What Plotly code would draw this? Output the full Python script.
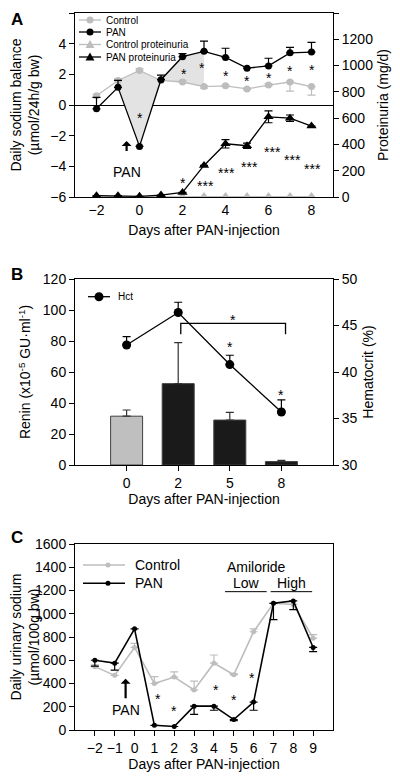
import plotly.graph_objects as go

# ---------------- Data ----------------
# Panel A
days_A = [-2, -1, 0, 1, 2, 3, 4, 5, 6, 7, 8]
ctrl_na = [0.6, 1.6, 2.25, 1.6, 1.5, 1.2, 1.25, 1.05, 1.3, 1.5, 1.2]
ctrl_na_up = [0.1, 0.1, 0.12, 0.0, 0.1, 0.05, 0.05, 0.05, 0.1, 0.05, 0.0]
ctrl_na_down = [0.1, 0.0, 0.0, 0.0, 0.0, 0.1, 0.05, 0.05, 0.05, 0.6, 0.55]
pan_na = [-0.25, 1.15, -2.7, 1.65, 3.15, 3.5, 3.1, 2.4, 2.55, 3.4, 3.45]
pan_na_up = [0.75, 0.45, 0.0, 0.3, 0.2, 0.67, 0.6, 0.0, 0.5, 0.36, 0.63]
ctrl_prot = [3, 3, 3, 3, 3, 3, 3, 3, 3, 3, 3]
pan_prot = [10, 10, 5, 15, 35, 240, 405, 390, 610, 600, 540]
pan_prot_err = [0, 0, 0, 0, 0, 0, 32, 20, 45, 24, 0]
legend_A = ["Control", "PAN", "Control proteinuria", "PAN proteinuria"]

# Panel B
days_B = ["0", "2", "5", "8"]
renin = [31.5, 52.5, 29, 2.2]
renin_err = [4, 26.5, 5, 0.8]
hct = [42.9, 46.4, 40.8, 35.7]
hct_err = [0.9, 1.1, 1.0, 1.3]
legend_B = ["Hct"]

# Panel C
days_C = [-2, -1, 0, 1, 2, 3, 4, 5, 6, 7, 8, 9]
ctrl_C = [545, 470, 710, 400, 455, 345, 575, 475, 845, 1090, 1080, 790]
ctrl_C_up = [15, 0, 35, 60, 45, 75, 70, 10, 25, 0, 0, 30]
pan_C = [600, 575, 870, 40, 30, 205, 205, 90, 240, 1090, 1110, 710]
pan_C_down = [50, 60, 0, 0, 0, 70, 35, 10, 70, 140, 75, 35]
legend_C = ["Control", "PAN"]

FONT = "Liberation Sans, Arial, sans-serif"
GRAY = "#bdbdbd"
BLACK = "#000000"

# The page places the figure 8px from the top-left corner; work in page pixels.
OFF = 8
W, H = 400 - OFF, 776 - OFF
def px(x):
    return (x - OFF) / W
def py(y):
    return 1 - (y - OFF) / H
def ydom(top_px, bot_px):
    return [py(bot_px), py(top_px)]
xdom = [px(75), px(333)]

fig = go.Figure()

# ---------- Panel A ----------
sl = [days_A.index(d) for d in [-1, 0, 1, 2, 3]]
fig.add_trace(go.Scatter(x=[days_A[i] for i in sl], y=[ctrl_na[i] for i in sl],
                         mode="lines", line=dict(width=0), hoverinfo="skip", xaxis="x", yaxis="y"))
fig.add_trace(go.Scatter(x=[days_A[i] for i in sl], y=[pan_na[i] for i in sl],
                         mode="lines", line=dict(width=0), fill="tonexty",
                         fillcolor="#e3e3e3", hoverinfo="skip", xaxis="x", yaxis="y"))
fig.add_trace(go.Scatter(x=days_A, y=ctrl_na, name=legend_A[0], mode="lines+markers",
                         line=dict(color=GRAY, width=1.3),
                         marker=dict(symbol="circle", size=7, color=GRAY),
                         error_y=dict(type="data", symmetric=False, array=ctrl_na_up,
                                      arrayminus=ctrl_na_down, color=GRAY, thickness=1.2, width=4),
                         xaxis="x", yaxis="y"))
fig.add_trace(go.Scatter(x=days_A, y=pan_na, name=legend_A[1], mode="lines+markers",
                         line=dict(color=BLACK, width=1.3),
                         marker=dict(symbol="circle", size=7, color=BLACK),
                         error_y=dict(type="data", symmetric=False, array=pan_na_up,
                                      arrayminus=[0] * len(pan_na), color=BLACK, thickness=1.2, width=4),
                         xaxis="x", yaxis="y"))
fig.add_trace(go.Scatter(x=days_A, y=ctrl_prot, name=legend_A[2], mode="lines+markers",
                         line=dict(color=GRAY, width=1.3),
                         marker=dict(symbol="triangle-up", size=9, color=GRAY),
                         xaxis="x", yaxis="y2"))
fig.add_trace(go.Scatter(x=days_A, y=pan_prot, name=legend_A[3], mode="lines+markers",
                         line=dict(color=BLACK, width=1.3),
                         marker=dict(symbol="triangle-up", size=9, color=BLACK),
                         error_y=dict(type="data", array=pan_prot_err, color=BLACK, thickness=1.2, width=4),
                         xaxis="x", yaxis="y2"))

# ---------- Panel B ----------
posB = list(range(len(days_B)))
fig.add_trace(go.Bar(x=posB, y=renin, width=0.62,
                     marker=dict(color=["#bfbfbf", "#1a1a1a", "#1a1a1a", "#1a1a1a"],
                                 line=dict(color="#404040", width=1)),
                     error_y=dict(type="data", symmetric=False, array=renin_err,
                                  arrayminus=[0] * 4, color="#333333", thickness=1.2, width=4),
                     xaxis="x2", yaxis="y3"))
fig.add_trace(go.Scatter(x=posB, y=hct, name=legend_B[0], mode="lines+markers",
                         line=dict(color=BLACK, width=1.3),
                         marker=dict(symbol="circle", size=9, color=BLACK),
                         error_y=dict(type="data", symmetric=False, array=hct_err,
                                      arrayminus=[0] * 4, color=BLACK, thickness=1.2, width=4),
                         xaxis="x2", yaxis="y4"))

# ---------- Panel C ----------
fig.add_trace(go.Scatter(x=days_C, y=ctrl_C, name=legend_C[0], mode="lines+markers",
                         line=dict(color=GRAY, width=1.6),
                         marker=dict(symbol="circle", size=5, color=GRAY),
                         error_y=dict(type="data", symmetric=False, array=ctrl_C_up,
                                      arrayminus=[0] * len(ctrl_C), color=GRAY, thickness=1.2, width=4),
                         xaxis="x3", yaxis="y5"))
fig.add_trace(go.Scatter(x=days_C, y=pan_C, name=legend_C[1], mode="lines+markers",
                         line=dict(color=BLACK, width=1.6),
                         marker=dict(symbol="circle", size=5, color=BLACK),
                         error_y=dict(type="data", symmetric=False, array=[0] * len(pan_C),
                                      arrayminus=pan_C_down, color=BLACK, thickness=1.2, width=4),
                         xaxis="x3", yaxis="y5"))

axis_common = dict(showline=True, linecolor="black", linewidth=1, mirror=True,
                   ticks="outside", ticklen=5, tickcolor="black", showgrid=False,
                   zeroline=False, automargin=False,
                   tickfont=dict(family=FONT, size=14, color="black"),
                   title_font=dict(family=FONT, size=14, color="black"))

layout = dict(
    width=W, height=H, autosize=False, showlegend=False,
    margin=dict(l=0, r=0, t=0, b=0, autoexpand=False),
    paper_bgcolor="white", plot_bgcolor="white",
    font=dict(family=FONT, color="black"),
    barmode="overlay",
    # Panel A
    xaxis=dict(domain=xdom, anchor="y", range=[-3, 9], tickvals=[-2, 0, 2, 4, 6, 8],
               title=dict(text="Days after PAN-injection", standoff=8), **{**axis_common, "ticks": ""}),
    yaxis=dict(domain=ydom(13, 197), anchor="x", range=[-6, 6], tickvals=[-6, -4, -2, 0, 2, 4, 6],
               title=dict(text="Daily sodium balance<br>(µmol/24h/g bw)", standoff=12),
               **{**axis_common, "zeroline": True, "zerolinecolor": "black", "zerolinewidth": 1, "mirror": False}),
    yaxis2=dict(overlaying="y", side="right", anchor="x", range=[0, 1400],
                tickvals=[0, 200, 400, 600, 800, 1000, 1200, 1400],
                title=dict(text="Proteinuria (mg/d)", standoff=6), **{**axis_common, "mirror": False}),
    # Panel B
    xaxis2=dict(domain=xdom, anchor="y3", range=[-1, 4], tickvals=posB, ticktext=days_B,
                title=dict(text="Days after PAN-injection", standoff=2), **axis_common),
    yaxis3=dict(domain=ydom(279, 465), anchor="x2", range=[0, 120], tickvals=[0, 20, 40, 60, 80, 100, 120],
                title=dict(text="Renin (x10<sup>-5</sup> GU·ml<sup>-1</sup>)", standoff=8),
                **{**axis_common, "mirror": False}),
    yaxis4=dict(overlaying="y3", side="right", anchor="x2", range=[30, 50], tickvals=[30, 35, 40, 45, 50],
                title=dict(text="Hematocrit (%)", standoff=6), **{**axis_common, "mirror": False}),
    # Panel C
    xaxis3=dict(domain=xdom, anchor="y5", range=[-3, 10], tickvals=days_C,
                title=dict(text="Days after PAN-injection", standoff=4), **axis_common),
    yaxis5=dict(domain=ydom(544, 730), anchor="x3", range=[0, 1600],
                tickvals=[0, 200, 400, 600, 800, 1000, 1200, 1400, 1600],
                title=dict(text="Daily urinary sodium<br>(µmol/100g bw)", standoff=4), **axis_common),
)
fig.update_layout(**layout)

ann = []
def star(x, y, text, xref, yref, size=14):
    ann.append(dict(x=x, y=y, xref=xref, yref=yref, text=text, showarrow=False,
                    font=dict(family=FONT, size=size, color="black"), yanchor="middle"))

# Panel A stars (sodium)
for x, y in [(0, -0.85), (2.05, 2.0), (2.9, 2.4), (4, 1.9), (5, 1.55), (6, 1.75), (7, 2.2), (8, 2.3)]:
    star(x, y, "*", "x", "y")
# Panel A stars (proteinuria)
star(2.0, 105, "*", "x", "y2")
for x, y in [(3.05, 80), (4.05, 180), (5.1, 225), (6.2, 345), (7.1, 280), (8.05, 210)]:
    star(x, y, "***", "x", "y2")
# PAN arrow A
ann.append(dict(x=-0.6, y=-2.35, ax=-0.6, ay=-3.1, xref="x", yref="y", axref="x", ayref="y",
                text="", showarrow=True, arrowhead=1, arrowsize=0.75, arrowwidth=2.2, arrowcolor="black"))
ann.append(dict(x=-0.6, y=-4.35, xref="x", yref="y", text="PAN", showarrow=False,
                font=dict(family=FONT, size=14, color="black")))

# Panel B stars
star(2.07, 93.5, "*", "x2", "y3")
star(2.0, 42.7, "*", "x2", "y4")
star(3.0, 37.5, "*", "x2", "y4")

# Panel C stars
for x, y in [(1.2, 265), (2.0, 165), (4.1, 345), (5.0, 260), (5.9, 445)]:
    star(x, y, "*", "x3", "y5")
ann.append(dict(x=-0.45, y=440, ax=-0.45, ay=260, xref="x3", yref="y5", axref="x3", ayref="y5",
                text="", showarrow=True, arrowhead=1, arrowsize=0.75, arrowwidth=2.2, arrowcolor="black"))
ann.append(dict(x=-0.45, y=170, xref="x3", yref="y5", text="PAN", showarrow=False,
                font=dict(family=FONT, size=14, color="black")))
ann.append(dict(x=6.15, y=1400, xref="x3", yref="y5", text="Amiloride", showarrow=False,
                font=dict(family=FONT, size=14, color="black")))
ann.append(dict(x=5.65, y=1262, xref="x3", yref="y5", text="Low", showarrow=False,
                font=dict(family=FONT, size=14, color="black")))
ann.append(dict(x=7.92, y=1262, xref="x3", yref="y5", text="High", showarrow=False,
                font=dict(family=FONT, size=14, color="black")))

# Panel letters
for letter, ytop in [("A", 8), ("B", 263), ("C", 526)]:
    ann.append(dict(x=px(9), y=py(ytop), xref="paper", yref="paper", xanchor="left", yanchor="top",
                    text="<b>%s</b>" % letter, showarrow=False,
                    font=dict(family=FONT, size=17, color="black")))

shapes = [
    # bracket B
    dict(type="path", xref="x2", yref="y3", path="M 1.05 84.3 L 1.05 91.4 L 3.08 91.4 L 3.08 84.3",
         line=dict(color="black", width=1.3)),
    # Low / High lines C
    dict(type="line", xref="x3", yref="y5", x0=4.56, x1=6.66, y0=1190, y1=1190,
         line=dict(color="black", width=1)),
    dict(type="line", xref="x3", yref="y5", x0=6.86, x1=8.95, y0=1190, y1=1190,
         line=dict(color="black", width=1)),
]

# Manual compact legends (key glyphs placed in page pixels)
def legend_entry(name, row, col, sym, x0, x1, cx, r, tx, fsize, lw):
    yy = py(row)
    shapes.append(dict(type="line", xref="paper", yref="paper", x0=px(x0), x1=px(x1), y0=yy, y1=yy,
                       line=dict(color=col, width=lw)))
    if sym == "circle":
        shapes.append(dict(type="circle", xref="paper", yref="paper",
                           x0=px(cx - r), x1=px(cx + r), y0=py(row + r), y1=py(row - r),
                           fillcolor=col, line=dict(color=col, width=0)))
    else:
        p = "M %f %f L %f %f L %f %f Z" % (px(cx - r - 1), py(row + r),
                                          px(cx + r + 1), py(row + r),
                                          px(cx), py(row - r - 1))
        shapes.append(dict(type="path", xref="paper", yref="paper", path=p,
                           fillcolor=col, line=dict(color=col, width=0)))
    ann.append(dict(x=px(tx), y=yy, xref="paper", yref="paper", xanchor="left", yanchor="middle",
                    text=name, showarrow=False, font=dict(family=FONT, size=fsize, color="black")))

for name, row, col, sym in zip(legend_A, [20, 32, 44.5, 57], [GRAY, BLACK, GRAY, BLACK],
                               ["circle", "circle", "tri", "tri"]):
    legend_entry(name, row, col, sym, 79, 101, 90, 3.5, 104, 10, 1.3)
legend_entry(legend_B[0], 296.7, BLACK, "circle", 88, 110, 99, 4.5, 116, 10, 1.3)
for name, row, col in zip(legend_C, [565, 583.3], [GRAY, BLACK]):
    legend_entry(name, row, col, "circle", 83, 125, 108, 2.5, 133, 14, 1.6)

fig.update_layout(annotations=ann, shapes=shapes)

fig.write_html("out.html")
